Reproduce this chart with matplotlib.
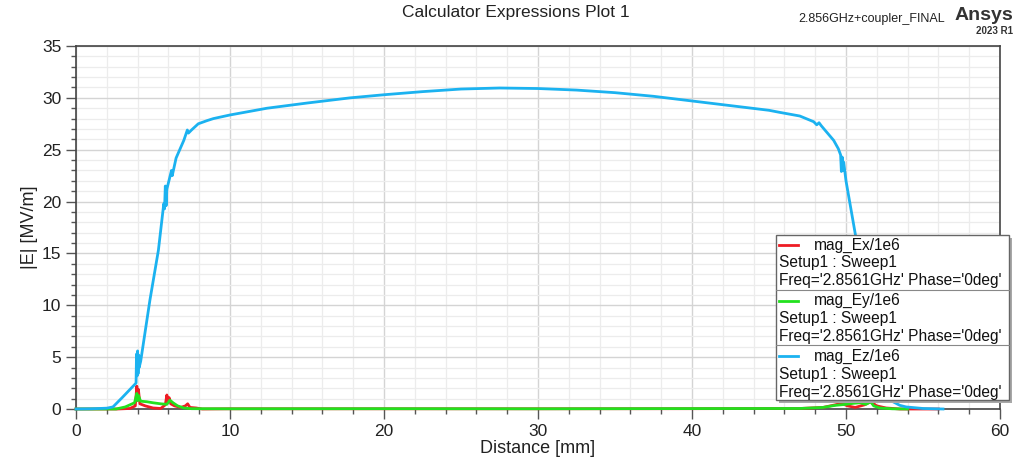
import matplotlib
matplotlib.use('Agg')
import matplotlib.pyplot as plt
import matplotlib.ticker as ticker
from matplotlib.patches import Rectangle
from matplotlib.lines import Line2D

plt.rcParams['font.family'] = ['Liberation Sans', 'DejaVu Sans']

# --- DATA ---
ez_x = [0, 1.0, 2.0, 2.4, 3.0, 3.9, 3.93, 3.97, 4.0, 4.03, 4.07, 4.1, 4.2, 4.8, 5.35,
        5.7, 5.75, 5.8, 5.85, 5.9, 6.2, 6.25, 6.5, 7.0, 7.23, 7.3, 7.5, 7.94, 8.5, 8.92,
        10, 12.4, 15, 17.8, 20, 22.5, 25, 27.5, 30, 32.5, 35, 37.5, 40, 42.5, 45, 45.7,
        47.0, 47.9, 48.1, 48.25, 48.4, 49.2, 49.5, 49.65, 49.7, 49.75, 49.8, 49.85, 50.0,
        50.6, 51.5, 52.3, 52.7, 53.05, 53.5, 53.9, 55, 56.3]
ez_y = [0, 0.02, 0.08, 0.2, 1.1, 2.5, 5.3, 3.2, 5.6, 3.4, 5.2, 4.0, 4.6, 10.5, 15.3,
        19.8, 19.3, 21.5, 19.6, 21.2, 23.0, 22.5, 24.2, 25.9, 26.9, 26.6, 26.9, 27.5, 27.8, 28.0,
        28.35, 29.0, 29.5, 30.0, 30.3, 30.6, 30.85, 30.95, 30.9, 30.75, 30.5, 30.15, 29.7, 29.25, 28.8, 28.6,
        28.25, 27.7, 27.4, 27.6, 27.3, 25.9, 25.1, 24.5, 22.9, 24.3, 23.0, 23.8, 22.0,
        16.9, 9.5, 3.5, 1.5, 0.7, 0.35, 0.2, 0.05, 0]

ex_x = [0, 2.7, 3.5, 3.85, 3.95, 4.0, 4.05, 4.15, 4.5, 5.0, 5.5, 5.8, 5.9, 5.95, 6.05,
        6.15, 6.4, 6.8, 7.1, 7.25, 7.4, 7.8, 8.2, 10, 20, 30, 40, 47, 48.5, 49.3, 49.7,
        50.1, 50.6, 51.2, 51.6, 52.0, 52.6, 53.5, 56]
ex_y = [0, 0, 0.05, 0.3, 2.2, 1.0, 1.9, 0.5, 0.3, 0.1, 0.05, 0.4, 1.35, 0.8, 1.1,
        0.5, 0.3, 0.15, 0.3, 0.5, 0.15, 0.1, 0.0, 0.02, 0.02, 0.02, 0.03, 0.05, 0.15, 0.4, 0.55,
        0.3, 0.15, 0.4, 0.7, 0.3, 0.1, 0.0, 0]

ey_x = [0, 2.6, 3.2, 3.8, 3.95, 4.0, 4.05, 4.2, 4.6, 5.0, 5.5, 5.9, 6.1, 6.3, 6.6,
        7.0, 7.5, 10, 20, 30, 40, 47, 48.5, 49.3, 50.0, 50.5, 50.9, 51.3, 51.6, 51.8,
        52.2, 53, 54]
ey_y = [0, 0, 0.2, 0.6, 1.5, 0.8, 1.3, 0.75, 0.7, 0.6, 0.5, 0.45, 0.85, 0.6, 0.3,
        0.1, 0.03, 0.02, 0.03, 0.02, 0.04, 0.05, 0.15, 0.35, 0.45, 0.55, 0.6, 0.45, 0.7, 0.3,
        0.1, 0.02, 0]

series_names = ['mag_Ex/1e6', 'mag_Ey/1e6', 'mag_Ez/1e6']
series_setup = 'Setup1 : Sweep1'
series_freq = "Freq='2.8561GHz' Phase='0deg'"
colors = ['#ee1c24', '#22e11e', '#1bb2f0']

W, H = 1029, 465
fig = plt.figure(figsize=(W / 100, H / 100), dpi=100)
ax = fig.add_axes([76 / W, 1 - 409 / H, 924 / W, 363 / H])

# curves sit on top of the frame like in the HFSS export
for xs, ys, c in [(ex_x, ex_y, colors[0]), (ey_x, ey_y, colors[1]), (ez_x, ez_y, colors[2])]:
    ax.plot(xs, ys, color=c, lw=2.0, clip_on=False, zorder=4)

ax.set_xlim(0, 60)
ax.set_ylim(0, 35)
ax.xaxis.set_major_locator(ticker.MultipleLocator(10))
ax.xaxis.set_minor_locator(ticker.MultipleLocator(2))
ax.yaxis.set_major_locator(ticker.MultipleLocator(5))
ax.yaxis.set_minor_locator(ticker.MultipleLocator(1))
ax.grid(True, which='major', color='#d4d4d4', lw=1.0)
ax.grid(True, which='minor', color='#ececec', lw=0.9)
ax.set_axisbelow(True)
ax.tick_params(which='major', direction='out', length=7, width=1, color='#555555',
               labelsize=12.5, labelcolor='#222222')
ax.tick_params(which='minor', direction='out', length=3.5, width=1, color='#555555')
for s in ax.spines.values():
    s.set_color('#444444')
    s.set_linewidth(1.2)
    s.set_zorder(2.5)

ax.set_xlabel('Distance [mm]', fontsize=13, color='#222222', labelpad=1)
ax.set_ylabel('|E| [MV/m]', fontsize=13, color='#222222', labelpad=3)

# header texts
fig.text(516 / W, 1 - 13 / H, 'Calculator Expressions Plot 1', ha='center', va='center',
         fontsize=12.5, color='#222222')
fig.text(945 / W, 1 - 19 / H, '2.856GHz+coupler_FINAL', ha='right', va='center',
         fontsize=9, color='#222222')
fig.text(1013 / W, 1 - 15 / H, 'Ansys', ha='right', va='center', fontsize=14,
         fontweight='bold', color='#333333')
fig.text(1013 / W, 1 - 31 / H, '2023 R1', ha='right', va='center', fontsize=7,
         fontweight='bold', color='#333333')

# legend box drawn in figure pixels
def fx(px):
    return px / W

def fy(py):
    return 1 - py / H

fig.patches.append(Rectangle((fx(779), fy(403)), fx(1012) - fx(779), fy(238) - fy(403),
                             transform=fig.transFigure, facecolor='#a8a8a8', edgecolor='none', zorder=5))
fig.patches.append(Rectangle((fx(776), fy(400)), fx(1009) - fx(776), fy(235) - fy(400),
                             transform=fig.transFigure, facecolor='white', edgecolor='#666666',
                             lw=1.0, zorder=6))
for sep in [289.5, 345]:
    fig.lines.append(Line2D([fx(776), fx(1009)], [fy(sep), fy(sep)], transform=fig.transFigure,
                            color='#888888', lw=0.8, zorder=7))
for i, name in enumerate(series_names):
    top = 245 + i * 55.5
    fig.lines.append(Line2D([fx(779), fx(798)], [fy(top), fy(top)], transform=fig.transFigure,
                            color=colors[i], lw=2.0, zorder=7))
    fig.text(fx(814), fy(top), name, ha='left', va='center', fontsize=11.2, color='#111111', zorder=8)
    fig.text(fx(779), fy(top + 18), series_setup, ha='left', va='center', fontsize=11.2,
             color='#111111', zorder=8)
    fig.text(fx(779), fy(top + 36), series_freq, ha='left', va='center', fontsize=11.2,
             color='#111111', zorder=8)

fig.savefig('out.png', dpi=100)
